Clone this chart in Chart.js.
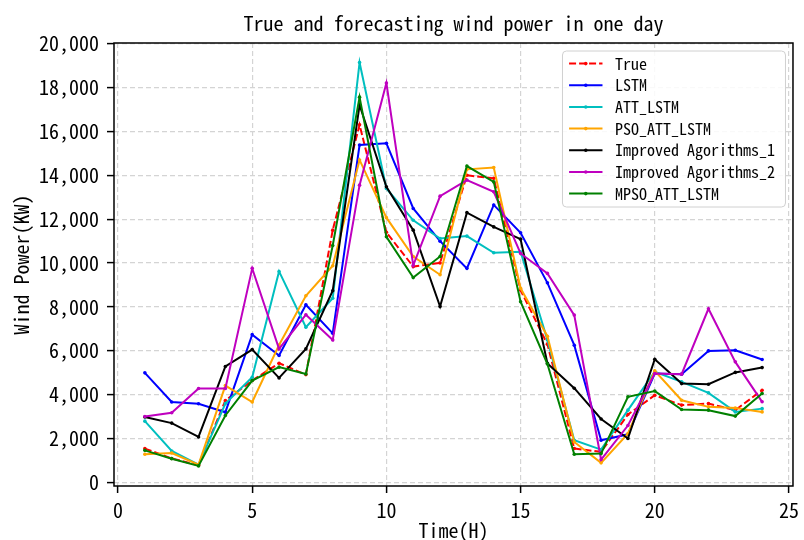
<!DOCTYPE html>
<html>
<head>
<meta charset="utf-8">
<script src="https://cdn.jsdelivr.net/npm/chart.js@4"></script>
<style>
  html, body { margin: 0; padding: 0; background: #fff; }
</style>
</head>
<body>
<canvas id="chart" width="804" height="540"></canvas>
<script>
const hours = [1, 2, 3, 4, 5, 6, 7, 8, 9, 10, 11, 12, 13, 14, 15, 16, 17, 18, 19, 20, 21, 22, 23, 24];
const xTicks = [0, 5, 10, 15, 20, 25];
const yTicks = [0, 2000, 4000, 6000, 8000, 10000, 12000, 14000, 16000, 18000, 20000];

const truePower = [1550, 1100, 790, 3740, 4650, 5440, 4920, 11500, 16300, 11400, 9840, 10010, 14000, 13860, 8770, 6300, 1550, 1400, 3100, 3980, 3530, 3600, 3300, 4210];
const lstm = [5000, 3670, 3590, 3210, 6740, 5790, 8100, 6800, 15380, 15460, 12490, 11000, 9760, 12650, 11380, 9100, 6260, 1930, 2200, 4970, 4940, 6000, 6030, 5610];
const attLstm = [2800, 1440, 820, 3600, 4800, 9620, 7080, 8400, 19140, 13400, 11950, 11120, 11230, 10470, 10520, 6500, 1930, 1500, 3300, 5050, 4590, 4090, 3220, 3370];
const psoAttLstm = [1290, 1350, 820, 4420, 3670, 6270, 8510, 9880, 14700, 12070, 10300, 9470, 14270, 14350, 8850, 6670, 1850, 900, 2230, 5090, 3750, 3450, 3400, 3220];
const improved1 = [2990, 2710, 2080, 5290, 6060, 4770, 6090, 8740, 17200, 13480, 11500, 8020, 12300, 11650, 11090, 5430, 4300, 2900, 2010, 5620, 4510, 4480, 5020, 5240];
const improved2 = [3010, 3180, 4290, 4290, 9760, 6090, 7650, 6500, 13550, 18200, 9900, 13050, 13780, 13250, 10440, 9530, 7630, 1050, 2600, 4970, 4940, 7920, 5500, 3680];
const mpsoAttLstm = [1470, 1090, 760, 3060, 4650, 5260, 4950, 10800, 17560, 11200, 9340, 10300, 14420, 13700, 8240, 5400, 1290, 1320, 3910, 4170, 3330, 3300, 3030, 4060];

const seriesNames = ['True', 'LSTM', 'ATT_LSTM', 'PSO_ATT_LSTM', 'Improved Agorithms_1', 'Improved Agorithms_2', 'MPSO_ATT_LSTM'];
const seriesValues = [truePower, lstm, attLstm, psoAttLstm, improved1, improved2, mpsoAttLstm];
const seriesColors = ['#ff0000', '#0000ff', '#00bfbf', '#ffa500', '#000000', '#bf00bf', '#008000'];

const titleText = 'True and forecasting wind power in one day';
const FONT = "'Noto Sans Mono CJK SC', 'DejaVu Sans Mono', monospace";

const datasets = seriesNames.map((name, i) => ({
  label: name,
  data: hours.map((h, k) => ({ x: h, y: seriesValues[i][k] })),
  borderColor: seriesColors[i],
  backgroundColor: seriesColors[i],
  borderWidth: 2,
  borderDash: i === 0 ? [7, 3] : [],
  pointRadius: 1.8,
  pointBorderWidth: 0,
  pointBackgroundColor: seriesColors[i],
  tension: 0,
  fill: false,
  order: seriesNames.length - i
}));

// box round the plot + title centred over the plot, like matplotlib
const frame = {
  id: 'frame',
  afterDatasetsDraw(chart) {
    const { ctx, chartArea: a } = chart;
    ctx.save();
    ctx.strokeStyle = '#000';
    ctx.lineWidth = 1.5;
    ctx.strokeRect(a.left, a.top, a.right - a.left, a.bottom - a.top);
    ctx.fillStyle = '#000';
    ctx.font = '20px ' + FONT;
    ctx.textAlign = 'center';
    ctx.textBaseline = 'middle';
    ctx.fillText(titleText, (a.left + a.right) / 2, 23);
    ctx.restore();
  }
};

// legend in the upper right corner of the plot
const boxLegend = {
  id: 'boxLegend',
  afterDraw(chart) {
    const { ctx, chartArea: a } = chart;
    const w = 223, h = 156;
    const x0 = a.right - 7.5 - w, y0 = a.top + 8;
    ctx.save();
    ctx.beginPath();
    ctx.roundRect(x0, y0, w, h, 4);
    ctx.fillStyle = 'rgba(255,255,255,0.85)';
    ctx.fill();
    ctx.strokeStyle = '#d0d0d0';
    ctx.lineWidth = 1;
    ctx.stroke();
    ctx.font = '16px ' + FONT;
    ctx.textBaseline = 'middle';
    chart.data.datasets.forEach((ds, i) => {
      const y = y0 + 12.6 + i * 21.67;
      ctx.strokeStyle = ds.borderColor;
      ctx.lineWidth = 2;
      ctx.setLineDash(ds.borderDash);
      ctx.beginPath();
      ctx.moveTo(x0 + 6.6, y);
      ctx.lineTo(x0 + 40, y);
      ctx.stroke();
      ctx.setLineDash([]);
      ctx.fillStyle = ds.borderColor;
      ctx.beginPath();
      ctx.arc(x0 + 23.3, y, 1.8, 0, Math.PI * 2);
      ctx.fill();
      ctx.fillStyle = '#000';
      ctx.fillText(ds.label, x0 + 52.6, y);
    });
    ctx.restore();
  }
};

const gridOpts = { color: '#d4d4d4', lineWidth: 1.2, tickLength: 7, tickColor: '#000', tickWidth: 1.5, tickBorderDash: [] };

new Chart(document.getElementById('chart').getContext('2d'), {
  type: 'line',
  data: { datasets },
  options: {
    responsive: false,
    animation: false,
    layout: { padding: { left: 0, right: 7, top: 43, bottom: 0 } },
    plugins: {
      legend: { display: false },
      tooltip: { enabled: false },
      title: { display: false }
    },
    scales: {
      x: {
        type: 'linear',
        min: -0.15,
        max: 25.15,
        afterFit: s => { s.height = 54; },
        afterBuildTicks: s => { s.ticks = xTicks.map(v => ({ value: v })); },
        ticks: {
          color: '#000',
          padding: 5,
          maxRotation: 0,
          autoSkip: false,
          font: { family: FONT, size: 20 }
        },
        grid: gridOpts,
        border: { display: false, dash: [5, 3] },
        title: {
          display: true,
          text: 'Time(H)',
          color: '#000',
          font: { family: FONT, size: 20, lineHeight: 1 },
          padding: { top: 0, bottom: 0 }
        }
      },
      y: {
        min: -155,
        max: 20027,
        afterFit: s => { s.width = 114; },
        afterBuildTicks: s => { s.ticks = yTicks.map(v => ({ value: v })); },
        ticks: {
          color: '#000',
          padding: 8,
          autoSkip: false,
          font: { family: FONT, size: 20 },
          callback: v => v.toLocaleString('en-US')
        },
        grid: gridOpts,
        border: { display: false, dash: [5, 3] },
        title: {
          display: true,
          text: 'Wind Power(KW)',
          color: '#000',
          font: { family: FONT, size: 20, lineHeight: 1 },
          padding: { top: 11, bottom: 0 }
        }
      }
    }
  },
  plugins: [frame, boxLegend]
});
</script>
</body>
</html>
